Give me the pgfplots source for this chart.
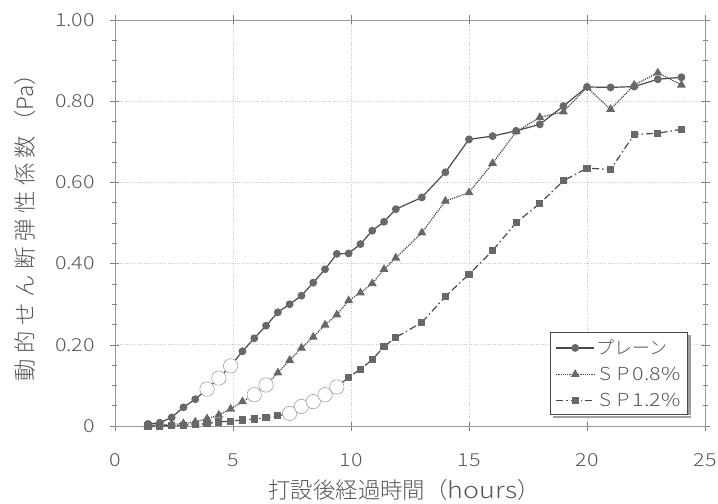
\documentclass[border=0pt]{standalone}
\usepackage{fontspec}
\setmainfont{Noto Sans CJK JP}[UprightFont=* Light, BoldFont=*]
\newfontfamily\numfont{Noto Sans CJK JP}[UprightFont=* Light, BoldFont=*, FakeStretch=1.2]
\usepackage{pgfplots}
\usepackage{pgfplotstable}
\pgfplotsset{compat=1.18}
\definecolor{ln}{HTML}{4A4A4A}
\definecolor{mk}{HTML}{686868}
\definecolor{tx}{HTML}{555555}
\definecolor{gr}{HTML}{CCCCCC}

\pgfplotstableread{
x y
1.4 0.005
1.9 0.008
2.4 0.021
2.9 0.046
3.4 0.066
3.9 0.091
4.4 0.118
4.9 0.148
5.4 0.184
5.9 0.216
6.4 0.247
6.9 0.280
7.4 0.300
7.9 0.321
8.4 0.353
8.9 0.386
9.4 0.424
9.9 0.425
10.4 0.448
10.9 0.481
11.4 0.503
11.9 0.534
13 0.563
14 0.625
15 0.706
16 0.714
17 0.727
18 0.743
19 0.788
20 0.835
21 0.834
22 0.836
23 0.854
24 0.859
}\plain

\pgfplotstableread{
x y
1.4 0.002
1.9 0.003
2.4 0.004
2.9 0.006
3.4 0.010
3.9 0.018
4.4 0.027
4.9 0.042
5.4 0.060
5.9 0.077
6.4 0.101
6.9 0.131
7.4 0.162
7.9 0.192
8.4 0.219
8.9 0.249
9.4 0.274
9.9 0.309
10.4 0.328
10.9 0.351
11.4 0.386
11.9 0.414
13 0.476
14 0.554
15 0.575
16 0.647
17 0.725
18 0.760
19 0.774
20 0.834
21 0.780
22 0.840
23 0.870
24 0.840
}\spa

\pgfplotstableread{
x y
1.4 0.000
1.9 0.000
2.4 0.001
2.9 0.002
3.4 0.003
3.9 0.006
4.4 0.010
4.9 0.012
5.4 0.015
5.9 0.017
6.4 0.020
6.9 0.025
7.4 0.031
7.9 0.048
8.4 0.060
8.9 0.077
9.4 0.096
9.9 0.120
10.4 0.140
10.9 0.163
11.4 0.196
11.9 0.218
13 0.255
14 0.319
15 0.374
16 0.432
17 0.501
18 0.548
19 0.604
20 0.635
21 0.632
22 0.718
23 0.721
24 0.731
}\spb

\pgfplotstableread{
x y
3.9 0.091
4.4 0.118
4.9 0.148
5.9 0.077
6.4 0.101
7.4 0.031
7.9 0.048
8.4 0.060
8.9 0.077
9.4 0.096
}\opens

\begin{document}
\begin{tikzpicture}
\begin{axis}[
  width=590bp, height=406bp, scale only axis,
  xmin=0, xmax=25, ymin=0, ymax=1,
  xtick={0,5,...,25},
  ytick={0,0.2,0.4,0.6,0.8,1.0},
  yticklabels={0,0.20,0.40,0.60,0.80,1.00},
  minor y tick num=3,
  grid=major,
  major grid style={gr, dotted, line width=0.7bp},
  axis line style={gr!75!black, line width=0.5bp},
  tick style={gray, line width=0.5bp},
  tick align=center,
  major tick length=9bp, minor tick length=5bp,
  /pgf/number format/assume math mode=true,
  ticklabel style={font=\numfont\fontsize{18}{18}\selectfont, text=tx},
  xticklabel style={yshift=-20bp},
  yticklabel style={xshift=-12bp},
  xlabel={打設後経過時間（{\numfont hours}）},
  ylabel={動\kern5.5bp 的\kern5.5bp せ\kern5.5bp ん\kern5.5bp 断\kern5.5bp 弾\kern5.5bp 性\kern5.5bp 係\kern5.5bp 数\kern3bp（Pa）},
  label style={font=\fontsize{22.5}{22.5}\selectfont, text=tx},
  xlabel style={at={(axis description cs:0.49,-0.158)}, anchor=center},
  ylabel style={at={(axis description cs:-0.1525,0.502)}, anchor=center},
  legend style={name=leg, at={(0.971,0.027)}, anchor=south east, draw=ln,
    line width=1bp, fill=white, text=tx,
    font=\fontsize{18}{18}\selectfont,
    inner xsep=5bp, inner ysep=5bp, row sep=7bp},
  legend cell align=left,
  legend image code/.code={\draw[#1, mark indices={2}] plot coordinates {(0bp,0bp) (19bp,0bp) (38bp,0bp)};},
]
\coordinate (bl) at (rel axis cs:0,0);
\coordinate (tr) at (rel axis cs:1,1);
\addplot[ln, line width=1.2bp, mark=*, mark size=3.3bp, mark options={solid, fill=mk, draw=mk}] table[x=x,y=y] {\plain};
\addlegendentry{プレーン}
\addplot[ln, line width=1.2bp, densely dotted, mark=triangle*, mark size=4bp, mark options={solid, fill=mk, draw=mk}] table[x=x,y=y] {\spa};
\addlegendentry{ＳＰ{\numfont 0.8\%}}
\addplot[ln, line width=1.2bp, dash pattern=on 7bp off 3bp on 1.5bp off 3bp, mark=square*, mark size=3bp, mark options={solid, fill=mk, draw=mk}] table[x=x,y=y] {\spb};
\addlegendentry{ＳＰ{\numfont 1.2\%}}
\addplot[only marks, forget plot, mark=*, mark size=7.2bp, mark options={fill=white, draw=gray!75, line width=0.6bp}] table[x=x,y=y] {\opens};
\end{axis}
\fill[gray!75] ([shift={(2.5bp,-3bp)}]leg.south west) rectangle ([shift={(3bp,-0.5bp)}]leg.south east);
\fill[gray!75] ([shift={(0.5bp,0bp)}]leg.south east) rectangle ([shift={(3bp,-3bp)}]leg.north east);
\pgfresetboundingbox
\path ([shift={(-115bp,-78bp)}]bl) rectangle ([shift={(13bp,20bp)}]tr);
\end{tikzpicture}
\end{document}
